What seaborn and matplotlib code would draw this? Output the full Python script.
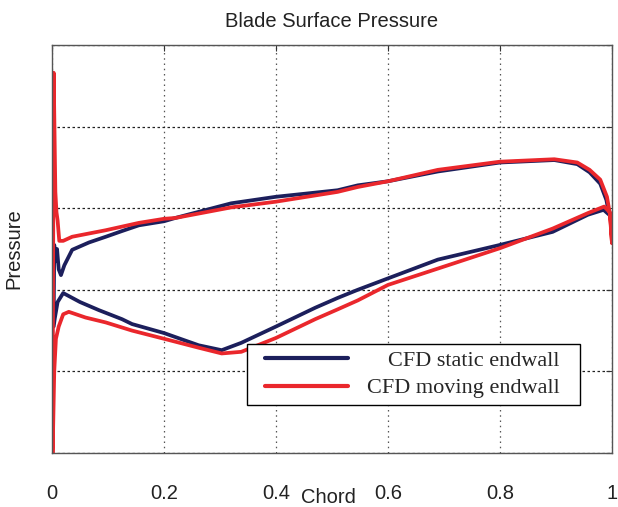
import numpy as np
import pandas as pd
import matplotlib
matplotlib.use("Agg")
import matplotlib.pyplot as plt
from matplotlib.legend_handler import HandlerLine2D
from matplotlib.lines import Line2D
import seaborn as sns

# ---------------- data ----------------
static_x = [0.003, 0.004, 0.007, 0.009, 0.012, 0.016, 0.022, 0.036, 0.066, 0.096,
            0.125, 0.155, 0.200, 0.220, 0.320, 0.400, 0.510, 0.546, 0.600, 0.689,
            0.800, 0.897, 0.938, 0.960, 0.979, 0.990, 0.995,
            0.985, 0.957, 0.894, 0.800, 0.689, 0.600, 0.546, 0.510, 0.470, 0.400,
            0.338, 0.303, 0.262, 0.200, 0.143, 0.125, 0.084, 0.050, 0.020, 0.010,
            0.005, 0.003]
static_p = [1.65, 2.55, 2.35, 2.50, 2.25, 2.18, 2.30, 2.49, 2.58, 2.65,
            2.72, 2.79, 2.84, 2.88, 3.06, 3.14, 3.22, 3.28, 3.33, 3.45,
            3.56, 3.59, 3.54, 3.44, 3.30, 3.10, 2.92,
            2.98, 2.92, 2.71, 2.55, 2.37, 2.14, 2.00, 1.90, 1.78, 1.55,
            1.35, 1.26, 1.32, 1.47, 1.58, 1.64, 1.75, 1.85, 1.96, 1.85,
            1.65, 1.55]

moving_x = [0.001, 0.003, 0.006, 0.008, 0.010, 0.013, 0.020, 0.036, 0.096, 0.155,
            0.200, 0.220, 0.320, 0.400, 0.510, 0.546, 0.600, 0.689, 0.800, 0.897,
            0.938, 0.960, 0.979, 0.991, 0.997, 1.000,
            0.996, 0.986, 0.957, 0.894, 0.800, 0.689, 0.600, 0.546, 0.510, 0.470,
            0.400, 0.338, 0.303, 0.262, 0.200, 0.143, 0.096, 0.060, 0.030, 0.020,
            0.012, 0.007, 0.004, 0.002, 0.001]
moving_p = [0.00, 4.66, 3.20, 2.95, 2.85, 2.60, 2.60, 2.65, 2.73, 2.82,
            2.87, 2.88, 3.01, 3.08, 3.20, 3.26, 3.33, 3.47, 3.57, 3.60,
            3.56, 3.47, 3.35, 3.14, 2.90, 2.57,
            2.95, 3.02, 2.94, 2.75, 2.51, 2.26, 2.06, 1.87, 1.76, 1.64,
            1.41, 1.24, 1.22, 1.29, 1.40, 1.50, 1.60, 1.66, 1.73, 1.70,
            1.55, 1.40, 1.00, 0.30, 0.00]

series_labels = ["CFD static endwall", "CFD moving endwall"]
x_ticks = [0, 0.2, 0.4, 0.6, 0.8, 1]
x_tick_labels = ["0", "0.2", "0.4", "0.6", "0.8", "1"]
y_grid = [0, 1, 2, 3, 4, 5]

# ---------------- build frame ----------------
df = pd.concat([
    pd.DataFrame({"Chord": static_x, "Pressure": static_p, "series": series_labels[0]}),
    pd.DataFrame({"Chord": moving_x, "Pressure": moving_p, "series": series_labels[1]}),
], ignore_index=True)

sns.set_theme(style="white")
plt.rcParams["font.family"] = ["Liberation Sans", "DejaVu Sans"]

fig = plt.figure(figsize=(6.18, 5.07), dpi=100)
ax = fig.add_axes([52 / 618, 54 / 507, 560 / 618, 408 / 507])
ax.set_facecolor("white")

palette = {series_labels[0]: "#1c1f5c", series_labels[1]: "#ea272c"}
sns.lineplot(data=df, x="Chord", y="Pressure", hue="series", units="series",
             estimator=None, sort=False, palette=palette, linewidth=2.7,
             ax=ax, legend=True)

ax.set_xlim(0, 1)
ax.set_ylim(0, 5)
ax.set_xticks(x_ticks)
ax.set_xticklabels(x_tick_labels, fontsize=14.5)
ax.set_yticks(y_grid)
ax.set_yticklabels([])
ax.tick_params(axis="both", direction="in", length=4, width=0.8, color="#333333",
               labelcolor="#222222", top=True, right=True)
ax.tick_params(axis="x", pad=22)
ax.xaxis.grid(True, linestyle=(0, (1.2, 3.0)), color="#555555", linewidth=0.9)
ax.yaxis.grid(True, linestyle=(0, (2.0, 2.0)), color="#222222", linewidth=0.9)

for s in ax.spines.values():
    s.set_color("#555555")
    s.set_linewidth(1.0)

ax.set_title("Blade Surface Pressure", fontsize=14.5, color="#222222", pad=13)
ax.set_xlabel("Chord", fontsize=14.5, color="#222222")
ax.xaxis.set_label_coords(0.494, -0.085)
ax.set_ylabel("Pressure", fontsize=14.5, color="#222222")
ax.yaxis.set_label_coords(-0.052, 0.5)

handles, labels = ax.get_legend_handles_labels()
x0 = (247 - 52) / 560
x1 = (580 - 52) / 560
ytop = (453 - 344) / 408
leg = ax.legend(handles, labels, loc="upper left",
                bbox_to_anchor=(x0, ytop - 0.2, x1 - x0, 0.2), mode="expand",
                prop={"family": ["Liberation Serif", "DejaVu Serif"], "size": 16},
                frameon=True, fancybox=False, edgecolor="black", framealpha=1,
                numpoints=2, handler_map={Line2D: HandlerLine2D(marker_pad=0.52)},
                handlelength=4.75, handletextpad=0.34, labelspacing=0.3,
                borderpad=0.3, borderaxespad=0)
leg.get_frame().set_linewidth(1.0)
for line in leg.get_lines():
    line.set_linewidth(3.0)

# right-align legend texts (as in the reference)
try:
    fig.canvas.draw()
    renderer = fig.canvas.get_renderer()
    rows = leg._legend_handle_box.get_children()[0].get_children()
    W = max(r.get_bbox(renderer).width for r in rows)
    for r in rows:
        r.mode = "expand"
        r.width = W
except Exception:
    pass

fig.savefig("out.png", dpi=100)
